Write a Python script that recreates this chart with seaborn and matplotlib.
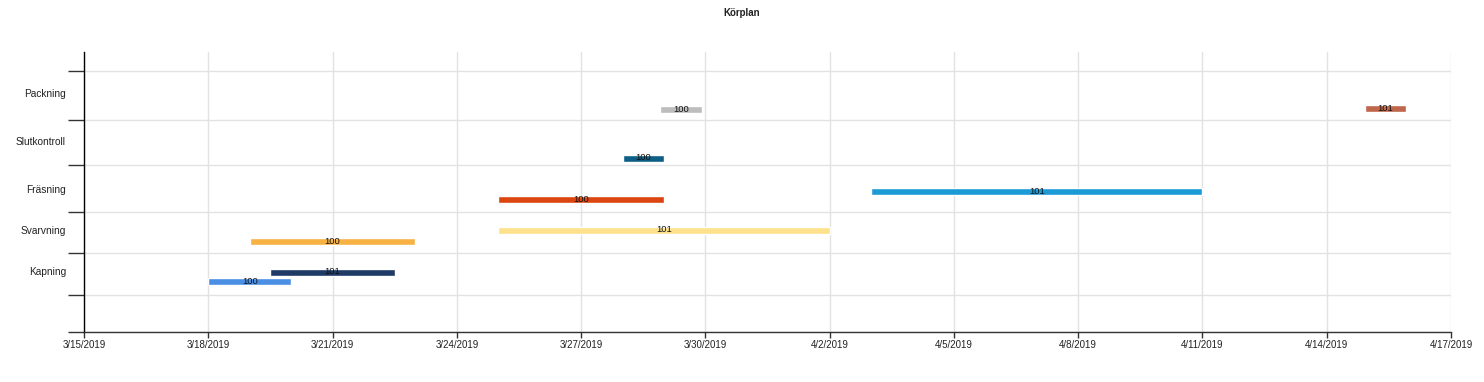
import matplotlib
matplotlib.use("Agg")
import matplotlib.pyplot as plt
import matplotlib.dates as mdates
from matplotlib.ticker import FixedLocator, FuncFormatter, NullFormatter
import pandas as pd
import seaborn as sns

# data
tasks = ["Kapning", "Kapning", "Svarvning", "Svarvning", "Fräsning", "Fräsning",
         "Slutkontroll", "Packning", "Packning"]
orders = ["100", "101", "100", "101", "100", "101", "100", "100", "101"]
starts = ["2019-03-18 00:00", "2019-03-19 12:00", "2019-03-19 00:00", "2019-03-25 00:00",
          "2019-03-25 00:00", "2019-04-03 00:00", "2019-03-28 00:00", "2019-03-28 22:00",
          "2019-04-14 22:00"]
ends = ["2019-03-20 00:00", "2019-03-22 12:00", "2019-03-23 00:00", "2019-04-02 00:00",
        "2019-03-29 00:00", "2019-04-11 00:00", "2019-03-29 00:00", "2019-03-29 22:00",
        "2019-04-15 22:00"]
row_names = ["Kapning", "Svarvning", "Fräsning", "Slutkontroll", "Packning"]

# layout (pixel-like y units, 0 = x axis)
bar_y = [50.7, 60, 90.3, 102, 133, 140.7, 174, 222.3, 223.7]
bar_colors = ["#4a8fe4", "#1f3a64", "#f8b243", "#fde18b", "#dc4510",
              "#1b9ad6", "#0d5f86", "#bdbdbd", "#c0664a"]
row_label_y = [60.7, 102, 143.3, 191, 239.3]
row_edges = [0, 37, 79, 120, 167, 212, 261]

df = pd.DataFrame({"task": tasks, "order": orders,
                   "start": pd.to_datetime(starts), "end": pd.to_datetime(ends)})
df["y"] = bar_y
df["color"] = bar_colors

sns.set_theme(style="white")
plt.rcParams['font.family'] = ['Liberation Sans', 'DejaVu Sans']

fig = plt.figure(figsize=(14.84, 3.82), dpi=100)
ax = fig.add_axes([84 / 1484, 50 / 382, (1451 - 84) / 1484, 280 / 382])

for _, r in df.iterrows():
    s = mdates.date2num(r["start"])
    e = mdates.date2num(r["end"])
    ax.barh(r["y"], e - s, left=s, height=7, color=r["color"], zorder=3)
    ax.text((s + e) / 2, r["y"], r["order"], ha="center", va="center",
            fontsize=6.8, color="#111111", zorder=4)

x0 = mdates.date2num(pd.Timestamp("2019-03-15"))
x1 = mdates.date2num(pd.Timestamp("2019-04-17"))
ax.set_xlim(x0, x1)
ax.set_ylim(0, 280)

ax.xaxis.set_major_locator(FixedLocator([x0 + 3 * k for k in range(12)]))


def fmt_date(v, pos):
    d = mdates.num2date(v)
    return f"{d.month}/{d.day}/{d.year}"


ax.xaxis.set_major_formatter(FuncFormatter(fmt_date))
ax.yaxis.set_major_locator(FixedLocator(row_edges))
ax.yaxis.set_major_formatter(NullFormatter())
ax.yaxis.set_minor_locator(FixedLocator(row_label_y))
ax.yaxis.set_minor_formatter(FuncFormatter(lambda v, p: row_names[p]))

ax.grid(axis="both", which="major", color="#e2e2e2", lw=1, zorder=0)
ax.set_axisbelow(True)

ax.tick_params(axis="x", which="major", bottom=True, length=4.3, width=1,
               color="#333333", labelsize=7, pad=1.5, labelcolor="#222222")
ax.tick_params(axis="y", which="major", left=True, length=11.5, width=1,
               color="#333333")
ax.tick_params(axis="y", which="minor", left=True, length=0, pad=13,
               labelsize=7.3, labelcolor="#222222")

for side in ["top", "right"]:
    ax.spines[side].set_visible(False)
ax.spines["left"].set_color("black")
ax.spines["left"].set_linewidth(1)
ax.spines["bottom"].set_color("#333333")
ax.spines["bottom"].set_linewidth(1)

fig.text(0.5, 1 - 13 / 382, "Körplan", ha="center", va="center",
         fontsize=7, fontweight="bold", color="#222222")

fig.savefig("out.png", dpi=100)
